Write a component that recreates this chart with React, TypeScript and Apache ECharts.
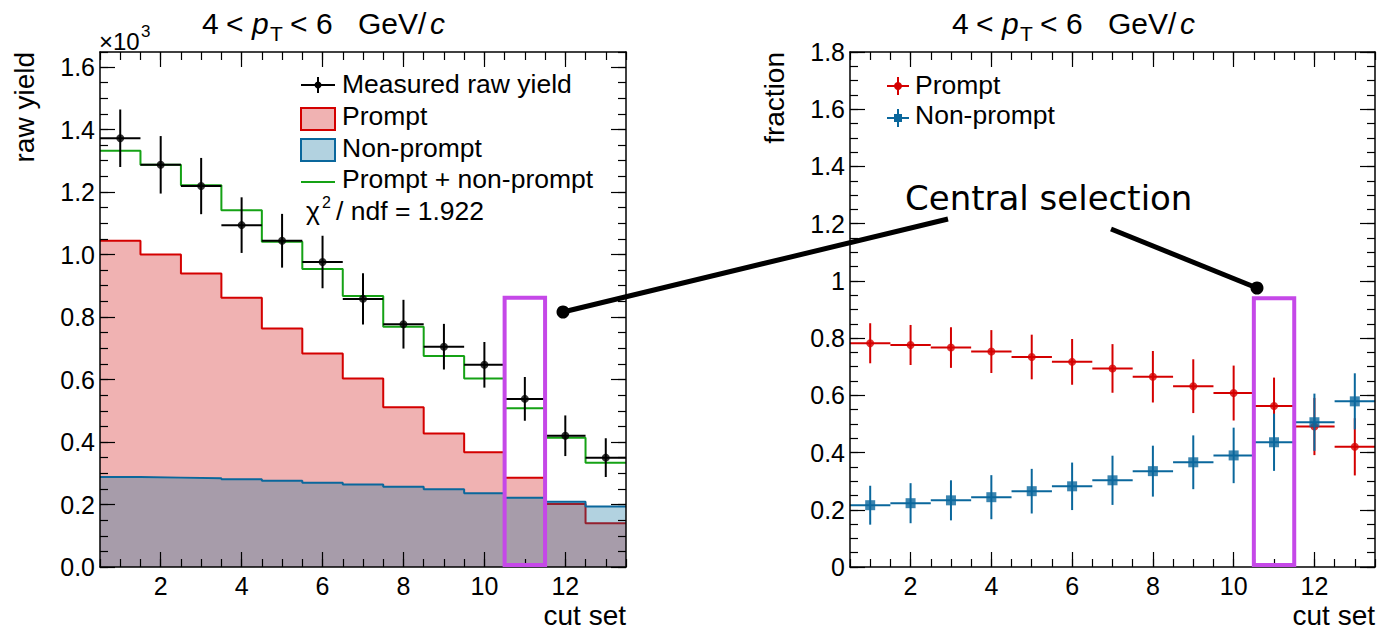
import React, { useEffect, useRef } from 'react';
import * as echarts from 'echarts';

// ---------------- data ----------------
const cutSets = [1, 2, 3, 4, 5, 6, 7, 8, 9, 10, 11, 12, 13];
const xMajorTicks = [2, 4, 6, 8, 10, 12];
const yLeftTicks = [0, 0.2, 0.4, 0.6, 0.8, 1.0, 1.2, 1.4, 1.6];
const yRightTicks = [0, 0.2, 0.4, 0.6, 0.8, 1.0, 1.2, 1.4, 1.6, 1.8];

// left panel (raw yield, x10^3)
const measuredYield = [1.372, 1.287, 1.219, 1.094, 1.044, 0.976, 0.858, 0.777, 0.705, 0.647, 0.538, 0.42, 0.35];
const measuredErr = [0.092, 0.092, 0.09, 0.089, 0.086, 0.084, 0.082, 0.078, 0.073, 0.073, 0.07, 0.065, 0.062];
const promptYield = [1.044, 1.0, 0.939, 0.862, 0.763, 0.683, 0.603, 0.511, 0.427, 0.367, 0.286, 0.202, 0.14];
const nonPromptYield = [0.288, 0.286, 0.284, 0.281, 0.276, 0.27, 0.264, 0.257, 0.249, 0.236, 0.222, 0.209, 0.194];
const totalYield = [1.332, 1.287, 1.222, 1.142, 1.041, 0.954, 0.867, 0.769, 0.675, 0.603, 0.508, 0.414, 0.334];

// right panel (fractions)
const promptFrac = [0.782, 0.776, 0.767, 0.753, 0.734, 0.717, 0.694, 0.665, 0.632, 0.608, 0.563, 0.491, 0.42];
const promptFracErr = [0.07, 0.07, 0.071, 0.075, 0.078, 0.08, 0.085, 0.09, 0.094, 0.096, 0.099, 0.1, 0.1];
const nonPromptFrac = [0.216, 0.223, 0.233, 0.244, 0.265, 0.282, 0.303, 0.335, 0.366, 0.39, 0.436, 0.506, 0.579];
const nonPromptFracErr = [0.068, 0.07, 0.07, 0.077, 0.078, 0.083, 0.086, 0.089, 0.094, 0.097, 0.1, 0.1, 0.098];

// central selection
const selectedCut = 11;
const selBoxTopLeft = 0.862;
const selBoxTopRight = 0.939;
const chi2Text = '/ ndf = 1.922';

// ---------------- style ----------------
const FONT = '"Liberation Sans", Arial, Helvetica, sans-serif';
const RED = '#d40000';
const BLUE = '#0a679c';
const GREEN = '#15a215';
const PURPLE = '#c548e8';
const RED_FILL = 'rgba(205,0,0,0.3)';
const BLUE_FILL = 'rgba(0,105,152,0.3)';

const stepData = (vals: number[]) =>
  vals.map((v, i) => [cutSets[i] - 0.5, v]).concat([[cutSets[vals.length - 1] + 0.5, vals[vals.length - 1]]]);

function xAxes(g: number) {
  const base: any = {
    type: 'value', gridIndex: g, min: 0.5, max: 13.5, z: 10,
    splitLine: { show: false },
    axisLine: { show: false, onZero: false },
    axisLabel: { show: false },
    axisTick: { show: false },
  };
  const line = { show: true, onZero: false, lineStyle: { color: '#000', width: 1.5 } };
  return [
    {
      ...base, position: 'bottom', interval: 0.5, axisLine: line,
      axisTick: { show: true, inside: true, length: 8, lineStyle: { color: '#000', width: 1.2 } },
      axisLabel: { show: true, customValues: xMajorTicks, margin: 6, fontSize: 25, fontFamily: FONT, color: '#000' },
    },
    { ...base, position: 'bottom', axisTick: { show: true, inside: true, length: 15, customValues: xMajorTicks, lineStyle: { color: '#000', width: 1.2 } } },
    {
      ...base, position: 'top', interval: 0.5, axisLine: line,
      axisTick: { show: true, inside: true, length: 8, lineStyle: { color: '#000', width: 1.2 } },
    },
    { ...base, position: 'top', axisTick: { show: true, inside: true, length: 15, customValues: xMajorTicks, lineStyle: { color: '#000', width: 1.2 } } },
  ];
}

function yAxes(g: number, max: number, ticks: number[], fmt: (v: number) => string) {
  const base: any = {
    type: 'value', gridIndex: g, min: 0, max, z: 10,
    splitLine: { show: false },
    axisLine: { show: false, onZero: false },
    axisLabel: { show: false },
    axisTick: { show: false },
  };
  const line = { show: true, onZero: false, lineStyle: { color: '#000', width: 1.5 } };
  return [
    {
      ...base, position: 'left', axisLine: line,
      axisTick: { show: true, inside: true, length: 15, customValues: ticks, lineStyle: { color: '#000', width: 1.2 } },
      axisLabel: { show: true, customValues: ticks, formatter: fmt, margin: 5, fontSize: 25, fontFamily: FONT, color: '#000' },
    },
    { ...base, position: 'left', interval: 0.05, axisTick: { show: true, inside: true, length: 8, lineStyle: { color: '#000', width: 1.2 } } },
    {
      ...base, position: 'right', axisLine: line,
      axisTick: { show: true, inside: true, length: 15, customValues: ticks, lineStyle: { color: '#000', width: 1.2 } },
    },
    { ...base, position: 'right', interval: 0.05, axisTick: { show: true, inside: true, length: 8, lineStyle: { color: '#000', width: 1.2 } } },
  ];
}

const errorBars = (ai: number, vals: number[], errs: number[], color: string, z: number) => ({
  type: 'custom', xAxisIndex: ai, yAxisIndex: ai, z,
  data: vals.map((v, i) => [cutSets[i], v, errs[i]]),
  renderItem: (_p: any, api: any) => {
    const x = api.value(0), y = api.value(1), e = api.value(2);
    const l = api.coord([x - 0.5, y]), r = api.coord([x + 0.5, y]);
    const t = api.coord([x, y + e]), b = api.coord([x, y - e]);
    return {
      type: 'group',
      children: [
        { type: 'line', shape: { x1: l[0], y1: l[1], x2: r[0], y2: r[1] }, style: { stroke: color, lineWidth: 2 } },
        { type: 'line', shape: { x1: t[0], y1: t[1], x2: b[0], y2: b[1] }, style: { stroke: color, lineWidth: 2 } },
      ],
    };
  },
});

const selBox = (ai: number, top: number) => ({
  type: 'custom', xAxisIndex: ai, yAxisIndex: ai, z: 20,
  data: [[selectedCut - 0.5, selectedCut + 0.5, 0, top]],
  renderItem: (_p: any, api: any) => {
    const a = api.coord([api.value(0), api.value(3)]);
    const b = api.coord([api.value(1), api.value(2)]);
    return {
      type: 'rect',
      shape: { x: a[0], y: a[1], width: b[0] - a[0], height: b[1] - a[1] - 2 },
      style: { fill: 'none', stroke: PURPLE, lineWidth: 4 },
    };
  },
});

// text helper: y is the baseline
const txt = (x: number, baseline: number, text: string, size: number, opts: any = {}) => ({
  type: 'text', x, y: baseline - 0.3465 * size, z: 50,
  rotation: opts.rotation || 0,
  style: {
    text, fontSize: size, fontFamily: opts.family || FONT, fontStyle: opts.italic ? 'italic' : 'normal',
    fill: '#000', align: opts.align || 'left', verticalAlign: 'middle',
  },
});

const title = (dx: number) => [
  txt(202 + dx, 34, '4', 30),
  txt(226 + dx, 34, '<', 30),
  txt(252 + dx, 34, 'p', 30, { italic: true }),
  txt(270 + dx, 41, 'T', 21),
  txt(290 + dx, 34, '<', 30),
  txt(316 + dx, 34, '6', 30),
  txt(358 + dx, 34, 'GeV/', 30),
  txt(430 + dx, 34, 'c', 30, { italic: true }),
];

const gline = (x1: number, y1: number, x2: number, y2: number, color: string, w: number) => ({
  type: 'line', z: 50, shape: { x1, y1, x2, y2 }, style: { stroke: color, lineWidth: w },
});

export default function App() {
  const ref = useRef<HTMLDivElement>(null);
  useEffect(() => {
    if (!ref.current) return;
    const chart = echarts.init(ref.current, undefined, { renderer: 'svg' });
    const graphics: any[] = [
      ...title(0),
      ...title(750),
      // x10^3
      txt(99, 50, '×10', 24),
      txt(141, 37, '3', 17),
      // axis titles
      { ...txt(0, 0, 'raw yield', 28, { rotation: Math.PI / 2, align: 'right' }), x: 24, y: 52 },
      { ...txt(0, 0, 'fraction', 28, { rotation: Math.PI / 2, align: 'right' }), x: 774, y: 52 },
      txt(626, 625, 'cut set', 28, { align: 'right' }),
      txt(1375, 625, 'cut set', 28, { align: 'right' }),
      // left legend
      gline(301, 85, 335, 85, '#000', 2),
      gline(318, 77, 318, 93, '#000', 2),
      { type: 'circle', z: 50, shape: { cx: 318, cy: 85, r: 3.5 }, style: { fill: '#000' } },
      { type: 'rect', z: 50, shape: { x: 301, y: 108, width: 34, height: 22 }, style: { fill: RED_FILL, stroke: RED, lineWidth: 2 } },
      { type: 'rect', z: 50, shape: { x: 301, y: 139, width: 34, height: 22 }, style: { fill: BLUE_FILL, stroke: BLUE, lineWidth: 2 } },
      gline(301, 182, 335, 182, GREEN, 2),
      txt(342, 93, 'Measured raw yield', 26.5),
      txt(342, 125, 'Prompt', 26.5),
      txt(342, 157, 'Non-prompt', 26.5),
      txt(342, 188, 'Prompt + non-prompt', 26.5),
      txt(306, 220, 'χ', 26.5),
      txt(322, 208, '2', 16),
      txt(336, 220, chi2Text, 26.5),
      // right legend
      gline(887, 86, 909, 86, RED, 2),
      gline(898, 77, 898, 95, RED, 2),
      { type: 'circle', z: 50, shape: { cx: 898, cy: 86, r: 4 }, style: { fill: RED } },
      txt(915, 94, 'Prompt', 26.5),
      gline(887, 118, 909, 118, BLUE, 2),
      gline(898, 109, 898, 127, BLUE, 2),
      { type: 'rect', z: 50, shape: { x: 894, y: 114, width: 8, height: 8 }, style: { fill: BLUE } },
      txt(915, 124, 'Non-prompt', 26.5),
      // annotation
      txt(905, 210, 'Central selection', 34, { family: '"DejaVu Sans", sans-serif' }),
      gline(563, 312, 948, 219, '#000', 5),
      gline(1111, 229, 1257, 288, '#000', 5),
      { type: 'circle', z: 60, shape: { cx: 563, cy: 312, r: 6.5 }, style: { fill: '#000' } },
      { type: 'circle', z: 60, shape: { cx: 1257, cy: 288, r: 6.5 }, style: { fill: '#000' } },
    ];

    chart.setOption({
      animation: false,
      backgroundColor: '#fff',
      grid: [
        { left: 100, top: 52, width: 526, height: 515 },
        { left: 850, top: 52, width: 525, height: 515 },
      ],
      xAxis: [...xAxes(0), ...xAxes(1)],
      yAxis: [
        ...yAxes(0, 1.648, yLeftTicks, (v: number) => v.toFixed(1)),
        ...yAxes(1, 1.8, yRightTicks, (v: number) => (Math.abs(v - Math.round(v)) < 1e-9 ? String(Math.round(v)) : v.toFixed(1))),
      ],
      series: [
        {
          type: 'line', xAxisIndex: 0, yAxisIndex: 0, step: 'end', z: 2, symbol: 'none',
          data: stepData(promptYield),
          lineStyle: { color: RED, width: 2 },
          areaStyle: { color: RED_FILL, opacity: 1 },
        },
        {
          type: 'line', xAxisIndex: 0, yAxisIndex: 0, step: 'end', z: 3, symbol: 'none',
          data: stepData(nonPromptYield),
          lineStyle: { color: BLUE, width: 2 },
          areaStyle: { color: BLUE_FILL, opacity: 1 },
        },
        {
          type: 'line', xAxisIndex: 0, yAxisIndex: 0, step: 'end', z: 4, symbol: 'none',
          data: stepData(totalYield),
          lineStyle: { color: GREEN, width: 2 },
        },
        errorBars(0, measuredYield, measuredErr, '#000', 5),
        {
          type: 'scatter', xAxisIndex: 0, yAxisIndex: 0, z: 6, symbol: 'circle', symbolSize: 8,
          data: measuredYield.map((v, i) => [cutSets[i], v]),
          itemStyle: { color: '#000' },
        },
        selBox(0, selBoxTopLeft),
        errorBars(4, promptFrac, promptFracErr, RED, 5),
        {
          type: 'scatter', xAxisIndex: 4, yAxisIndex: 4, z: 6, symbol: 'circle', symbolSize: 8,
          data: promptFrac.map((v, i) => [cutSets[i], v]),
          itemStyle: { color: RED },
        },
        errorBars(4, nonPromptFrac, nonPromptFracErr, BLUE, 7),
        {
          type: 'scatter', xAxisIndex: 4, yAxisIndex: 4, z: 8, symbol: 'rect', symbolSize: 10,
          data: nonPromptFrac.map((v, i) => [cutSets[i], v]),
          itemStyle: { color: BLUE },
        },
        selBox(4, selBoxTopRight),
      ],
      graphic: { elements: graphics },
    });
    return () => chart.dispose();
  }, []);
  return <div ref={ref} style={{ position: 'fixed', left: 0, top: 0, width: 1378, height: 633, background: '#fff' }} />;
}
